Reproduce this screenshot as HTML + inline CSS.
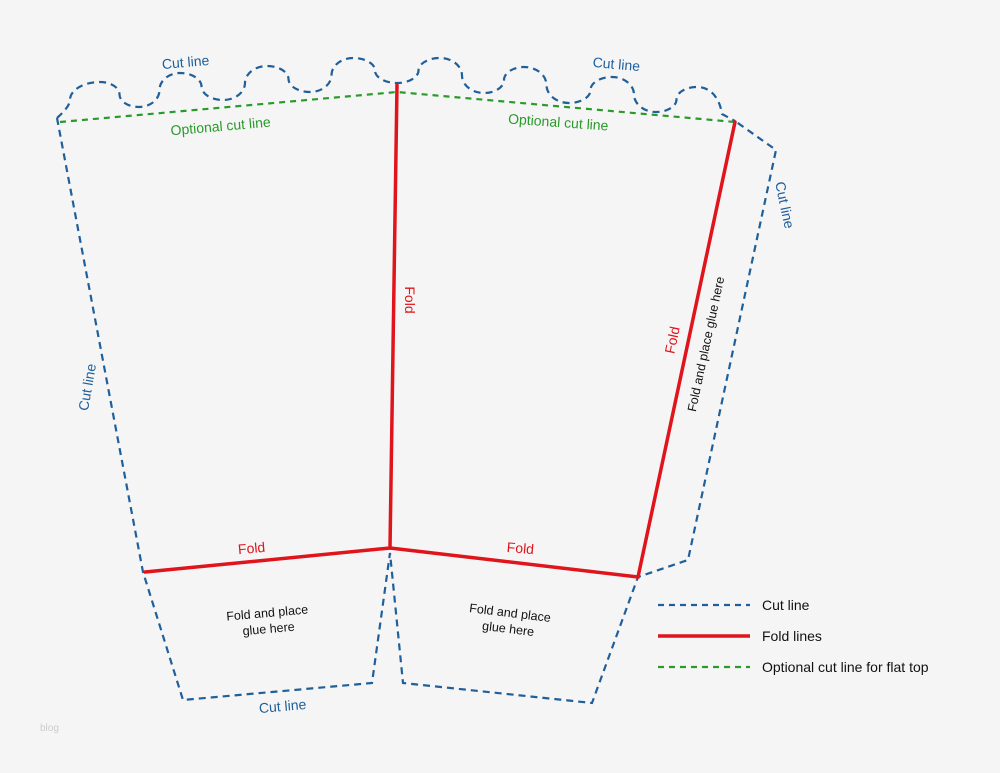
<!DOCTYPE html>
<html><head><meta charset="utf-8"><style>
html,body{margin:0;padding:0;background:#f5f5f5}
svg{display:block}
text{font-family:"Liberation Sans",sans-serif}
</style></head><body>
<svg width="1000" height="773" viewBox="0 0 1000 773" xmlns="http://www.w3.org/2000/svg">
<rect width="1000" height="773" fill="#f5f5f5"/>
<g fill="none" stroke="#1f5f9a" stroke-width="2.2" stroke-dasharray="7,5">
<path d="M57,118 C66,110 70,104 70,100
C70,90.1 83.5,82 100,82
C110.7,82 119.5,87.6 119.5,94.5
C119.5,101.4 128.3,107 139,107
C150.3,107 159.5,99.4 159.5,90
C159.5,80.7 168.7,73 180,73
C191.8,73 201.5,79.1 201.5,86.5
C201.5,93.9 211.2,100 223,100
C235.1,100 245,92.4 245,83
C245,73.7 254.9,66 267,66
C278.8,66 288.5,71.9 288.5,79
C288.5,86.2 298.2,92 310,92
C321.8,92 331.5,84.4 331.5,75
C331.5,65.7 341.2,58 353,58
C365.1,58 375,63.6 375,70.5
C375,77.4 384.9,83 397,83
C408.8,83 418.5,77.4 418.5,70.5
C418.5,63.6 428.2,58 440,58
C452.1,58 462,65.9 462,75.5
C462,85.1 471.9,93 484,93
C495,93 504,87.2 504,80
C504,72.9 513,67 524,67
C536.4,67 546.5,75.1 546.5,85
C546.5,94.9 556.6,103 569,103
C580.8,103 590.5,97.2 590.5,90
C590.5,82.9 600.2,77 612,77
C624.1,77 634,84.9 634,94.5
C634,104.1 643.9,112 656,112
C667.3,112 676.5,106.4 676.5,99.5
C676.5,92.6 685.7,87 697,87
C712,87 720,100 722,114 L735,121"/>
<path d="M57,118 L143,572 L183,700 L372,683 L390,553 L403,683 L592,703 L638,577 L688,560 L776,150 L735,121"/>
</g>
<path d="M60,122 L397,92 L735,122" fill="none" stroke="#2a9a2a" stroke-width="2.2" stroke-dasharray="6,5"/>
<g stroke="#e0141b" stroke-width="3.5" fill="none" stroke-linecap="round">
<path d="M397,85 L390,548 L145,572"/>
<path d="M390,548 L638,577 L735,122"/>
</g>
<g font-size="14" fill="#1f5f9a">
<text x="186" y="67" text-anchor="middle" transform="rotate(-5 186 67)">Cut line</text>
<text x="616" y="69" text-anchor="middle" transform="rotate(5 616 69)">Cut line</text>
<text x="92" y="388" text-anchor="middle" transform="rotate(-80 92 388)">Cut line</text>
<text x="780" y="206" text-anchor="middle" transform="rotate(78 780 206)">Cut line</text>
<text x="283" y="711" text-anchor="middle" transform="rotate(-5 283 711)">Cut line</text>
</g>
<g font-size="14" fill="#2a9a2a">
<text x="221" y="131" text-anchor="middle" transform="rotate(-5 221 131)">Optional cut line</text>
<text x="558" y="127" text-anchor="middle" transform="rotate(4 558 127)">Optional cut line</text>
</g>
<g font-size="14" fill="#e0141b">
<text x="405" y="300" text-anchor="middle" transform="rotate(90 405 300)">Fold</text>
<text x="677" y="341" text-anchor="middle" transform="rotate(-78 677 341)">Fold</text>
<text x="252" y="553" text-anchor="middle" transform="rotate(-5 252 553)">Fold</text>
<text x="520" y="553" text-anchor="middle" transform="rotate(5 520 553)">Fold</text>
</g>
<g font-size="12.5" fill="#111">
<text x="710" y="345" text-anchor="middle" transform="rotate(-78 710 345)">Fold and place glue here</text>
<g transform="rotate(-5 268 622)"><text x="268" y="617" text-anchor="middle">Fold and place</text><text x="268" y="633" text-anchor="middle">glue here</text></g>
<g transform="rotate(7 509 622)"><text x="509" y="617" text-anchor="middle">Fold and place</text><text x="509" y="633" text-anchor="middle">glue here</text></g>
</g>
<line x1="658" y1="605" x2="750" y2="605" stroke="#1f5f9a" stroke-width="2.2" stroke-dasharray="6,5"/>
<line x1="658" y1="636" x2="750" y2="636" stroke="#e0141b" stroke-width="3.5"/>
<line x1="658" y1="667" x2="750" y2="667" stroke="#2a9a2a" stroke-width="2.2" stroke-dasharray="6,5"/>
<g font-size="14" fill="#111">
<text x="762" y="610">Cut line</text>
<text x="762" y="641">Fold lines</text>
<text x="762" y="672">Optional cut line for flat top</text>
</g>
<text x="40" y="731" font-size="10" fill="#ccc">blog</text>
</svg>
</body></html>
